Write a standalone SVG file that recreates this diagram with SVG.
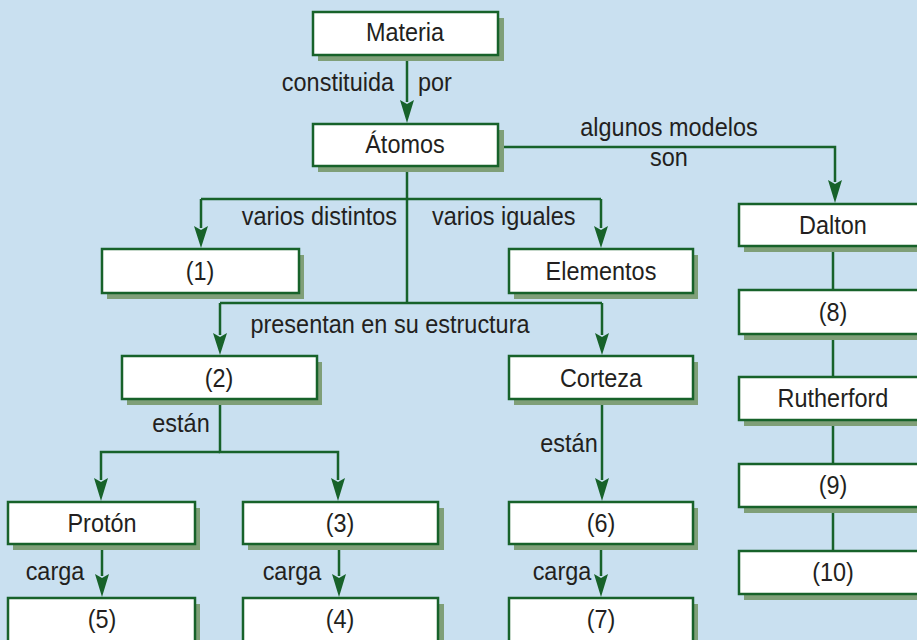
<svg xmlns="http://www.w3.org/2000/svg" width="917" height="640" viewBox="0 0 917 640">
<style>
.bg{fill:#c9e0f0}
.sh{fill:#7f9f78}
.bx{fill:#ffffff;stroke:#17622a;stroke-width:2.5}
.ln{fill:none;stroke:#17622a;stroke-width:2.5}
.ah{fill:#17622a}
.t{font-family:"Liberation Sans",Arial,sans-serif;font-size:25.5px;fill:#231f20;transform:scaleX(0.92);transform-origin:0 0}
.c{text-anchor:middle}
.e{text-anchor:end}
</style>
<rect class="bg" x="0" y="0" width="917" height="640"/>

<g id="connectors">
<path class="ln" d="M407,55 V102"/>
<path class="ah" d="M400,100 L407,104 L414,100 L407,123 Z"/>
<path class="ln" d="M498,147 H835 V182"/>
<path class="ah" d="M828,180 L835,184 L842,180 L835,203 Z"/>
<path class="ln" d="M407,166 V303"/>
<path class="ln" d="M201,199 H601"/>
<path class="ln" d="M201,199 V228"/>
<path class="ah" d="M194,226 L201,230 L208,226 L201,248 Z"/>
<path class="ln" d="M601,199 V228"/>
<path class="ah" d="M594,226 L601,230 L608,226 L601,248 Z"/>
<path class="ln" d="M220,303 H602"/>
<path class="ln" d="M220,303 V335"/>
<path class="ah" d="M213,333 L220,337 L227,333 L220,355 Z"/>
<path class="ln" d="M602,303 V335"/>
<path class="ah" d="M595,333 L602,337 L609,333 L602,355 Z"/>
<path class="ln" d="M220,399 V452 H338 V480"/>
<path class="ln" d="M220,452 H101 V480"/>
<path class="ah" d="M94,478 L101,482 L108,478 L101,501 Z"/>
<path class="ah" d="M331,478 L338,482 L345,478 L338,501 Z"/>
<path class="ln" d="M602,399 V480"/>
<path class="ah" d="M595,478 L602,482 L609,478 L602,501 Z"/>
<path class="ln" d="M102,544 V576"/>
<path class="ah" d="M95,574 L102,578 L109,574 L102,597 Z"/>
<path class="ln" d="M339,544 V576"/>
<path class="ah" d="M332,574 L339,578 L346,574 L339,597 Z"/>
<path class="ln" d="M601,544 V576"/>
<path class="ah" d="M594,574 L601,578 L608,574 L601,597 Z"/>
<path class="ln" d="M833,246 V290 M833,334 V377 M833,420 V464 M833,507 V551"/>
</g>

<g id="labels">
<text class="t e" x="428.26" y="91">constituida</text>
<text class="t" x="454.35" y="91">por</text>
<text class="t c" x="727.17" y="136">algunos modelos</text>
<text class="t c" x="727.17" y="166">son</text>
<text class="t e" x="431.52" y="225">varios distintos</text>
<text class="t" x="469.57" y="225">varios iguales</text>
<text class="t c" x="423.91" y="333">presentan en su estructura</text>
<text class="t c" x="196.74" y="432">están</text>
<text class="t c" x="618.48" y="452">están</text>
<text class="t c" x="59.78" y="580">carga</text>
<text class="t c" x="317.39" y="580">carga</text>
<text class="t c" x="610.87" y="580">carga</text>
</g>

<g id="n-materia"><rect class="sh" x="318" y="18" width="186" height="43"/><rect class="bx" x="313" y="12" width="185" height="43"/><text class="t c" x="440.22" y="41">Materia</text></g>
<g id="n-atomos"><rect class="sh" x="318" y="130" width="186" height="42"/><rect class="bx" x="313" y="124" width="185" height="42"/><text class="t c" x="440.22" y="153">Átomos</text></g>
<g id="n-1"><rect class="sh" x="107" y="255" width="197" height="44"/><rect class="bx" x="102" y="249" width="197" height="44"/><text class="t c" x="217.39" y="280">(1)</text></g>
<g id="n-elementos"><rect class="sh" x="514" y="255" width="184" height="44"/><rect class="bx" x="509" y="249" width="184" height="44"/><text class="t c" x="653.26" y="280">Elementos</text></g>
<g id="n-2"><rect class="sh" x="127" y="362" width="195" height="43"/><rect class="bx" x="122" y="356" width="195" height="43"/><text class="t c" x="238.04" y="387">(2)</text></g>
<g id="n-corteza"><rect class="sh" x="514" y="362" width="184" height="43"/><rect class="bx" x="509" y="356" width="184" height="43"/><text class="t c" x="653.26" y="387">Corteza</text></g>
<g id="n-proton"><rect class="sh" x="13" y="508" width="187" height="42"/><rect class="bx" x="8" y="502" width="187" height="42"/><text class="t c" x="110.87" y="532">Protón</text></g>
<g id="n-3"><rect class="sh" x="248" y="508" width="196" height="42"/><rect class="bx" x="243" y="502" width="195" height="42"/><text class="t c" x="369.57" y="532">(3)</text></g>
<g id="n-6"><rect class="sh" x="514" y="508" width="184" height="42"/><rect class="bx" x="509" y="502" width="184" height="42"/><text class="t c" x="653.26" y="532">(6)</text></g>
<g id="n-5"><rect class="sh" x="13" y="604" width="187" height="50"/><rect class="bx" x="8" y="598" width="187" height="50"/><text class="t c" x="110.87" y="628">(5)</text></g>
<g id="n-4"><rect class="sh" x="248" y="604" width="196" height="50"/><rect class="bx" x="243" y="598" width="195" height="50"/><text class="t c" x="369.57" y="628">(4)</text></g>
<g id="n-7"><rect class="sh" x="514" y="604" width="184" height="50"/><rect class="bx" x="509" y="598" width="184" height="50"/><text class="t c" x="653.26" y="628">(7)</text></g>
<g id="n-dalton"><rect class="sh" x="744" y="210" width="190" height="42"/><rect class="bx" x="739" y="204" width="190" height="42"/><text class="t c" x="905.43" y="234">Dalton</text></g>
<g id="n-8"><rect class="sh" x="744" y="296" width="190" height="44"/><rect class="bx" x="739" y="290" width="190" height="44"/><text class="t c" x="905.43" y="321">(8)</text></g>
<g id="n-rutherford"><rect class="sh" x="744" y="383" width="190" height="43"/><rect class="bx" x="739" y="377" width="190" height="43"/><text class="t c" x="905.43" y="407">Rutherford</text></g>
<g id="n-9"><rect class="sh" x="744" y="470" width="190" height="43"/><rect class="bx" x="739" y="464" width="190" height="43"/><text class="t c" x="905.43" y="494">(9)</text></g>
<g id="n-10"><rect class="sh" x="744" y="557" width="190" height="43"/><rect class="bx" x="739" y="551" width="190" height="43"/><text class="t c" x="905.43" y="581">(10)</text></g>
</svg>
